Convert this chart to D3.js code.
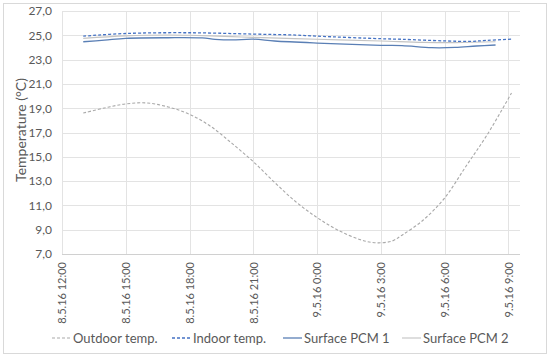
<!DOCTYPE html>
<html><head><meta charset="utf-8">
<script src="https://cdn.jsdelivr.net/npm/d3@7"></script>
<style>body{margin:0;background:#fff;} svg{display:block;font-family:Lato,"Open Sans",sans-serif;}</style>
</head><body>
<svg id="c" width="550" height="358"></svg>
<script>
// Hours since 8.5.16 12:00
const yTicks = [7, 9, 11, 13, 15, 17, 19, 21, 23, 25, 27];
const xTickLabels = ["8.5.16 12:00","8.5.16 15:00","8.5.16 18:00","8.5.16 21:00","9.5.16 0:00","9.5.16 3:00","9.5.16 6:00","9.5.16 9:00"];
const seriesNames = ["Outdoor temp.","Indoor temp.","Surface PCM 1","Surface PCM 2"];

const outdoorHours = [1,2,3,4,5,6,7,8,9,10,11,12,13,14,14.7,15.5,16,17,18,19,20,21.15];
const outdoorTemp  = [18.6,19.02,19.35,19.43,19.1,18.5,17.5,16.1,14.6,12.9,11.3,10.0,8.95,8.2,7.93,8.05,8.55,9.8,11.6,14.2,16.8,20.25];

const indoorHours = [1,3,6,9,11,12,15,16,18,19.2,20,21.15];
const indoorTemp  = [24.93,25.15,25.21,25.1,25.02,24.93,24.72,24.67,24.54,24.5,24.58,24.68];

const pcm1Hours = [1,2,3,5,6.6,7.2,8,9,10,12,15,16,17.4,18.5,19.5,20.4];
const pcm1Temp  = [24.47,24.6,24.75,24.8,24.78,24.67,24.62,24.68,24.53,24.36,24.17,24.15,23.98,24.0,24.12,24.2];

const pcm2Hours = [1,3,5,6,8,9,12,15,17,18.5,20.4];
const pcm2Temp  = [24.75,24.95,25.02,25.0,24.89,24.83,24.67,24.53,24.42,24.4,24.47];

const svg = d3.select("#c");
const m = {l:62, r:520, t:11, b:254};
const t0 = new Date(2016,4,8,12,0);
const toDate = h => new Date(t0.getTime() + h*3600000);
const x = d3.scaleTime().domain([t0, toDate(21.55)]).range([m.l, m.r]);
const y = d3.scaleLinear().domain([7,27]).range([m.b, m.t]);

// outer border
svg.append("rect").attr("x",3.5).attr("y",3.5).attr("width",543).attr("height",350)
  .attr("fill","none").attr("stroke","#d9d9d9");

// gridlines
const tickDates = xTickLabels.map((d,i)=>toDate(i*3));
svg.append("g").selectAll("line").data(yTicks).join("line")
  .attr("x1",m.l).attr("x2",m.r).attr("y1",d=>Math.round(y(d))+0.5).attr("y2",d=>Math.round(y(d))+0.5)
  .attr("stroke","#e3e3e3").attr("stroke-width",1);
svg.append("g").selectAll("line").data(tickDates).join("line")
  .attr("x1",d=>Math.round(x(d))+0.5).attr("x2",d=>Math.round(x(d))+0.5).attr("y1",m.t).attr("y2",m.b)
  .attr("stroke","#e3e3e3").attr("stroke-width",1);
svg.append("line").attr("x1",m.l).attr("x2",m.r).attr("y1",Math.round(y(7))+0.5).attr("y2",Math.round(y(7))+0.5)
  .attr("stroke","#d0d0d0");

// y axis labels
const yAxis = d3.axisLeft(y).tickValues(yTicks).tickSize(0).tickPadding(10)
  .tickFormat(d=>d3.format(".1f")(d).replace(".",","));
const gy = svg.append("g").attr("transform",`translate(${m.l},0)`).call(yAxis);
gy.select(".domain").remove();
gy.selectAll("text").attr("fill","#595959").style("font-size","12px").style("font-family","Lato,sans-serif");

// x axis labels (rotated)
const xAxis = d3.axisBottom(x).tickValues(tickDates).tickSize(0).tickFormat((d,i)=>xTickLabels[i]);
const gx = svg.append("g").attr("transform",`translate(0,${m.b})`).call(xAxis);
gx.select(".domain").remove();
gx.selectAll("text").attr("fill","#595959").style("font-size","11px").style("font-family","Lato,sans-serif")
  .attr("transform","rotate(-90)").attr("text-anchor","end")
  .attr("x",-8).attr("y",0).attr("dy","0.35em");

// y title
svg.append("text").attr("transform","translate(21,130) rotate(-90)").attr("text-anchor","middle")
  .attr("dy","0.35em").attr("fill","#595959").style("font-size","14px").text("Temperature (°C)");

const line = d3.line().x(d=>x(toDate(d[0]))).y(d=>y(d[1])).curve(d3.curveCatmullRom.alpha(0.5));
const styles = [
  {h:outdoorHours, v:outdoorTemp, color:"#a9a9a9", dash:"3,2", w:1.1},
  {h:indoorHours, v:indoorTemp, color:"#4472c4", dash:"3,2", w:1.3},
  {h:pcm1Hours, v:pcm1Temp, color:"#5a7fb5", dash:null, w:1.3},
  {h:pcm2Hours, v:pcm2Temp, color:"#c4c4c4", dash:null, w:1.1}
];
const drawOrder = [3,0,2,1];
drawOrder.forEach(i=>{
  const s = styles[i];
  svg.append("path").datum(s.h.map((h,j)=>[h,s.v[j]]))
    .attr("d",line).attr("fill","none").attr("stroke",s.color).attr("stroke-width",s.w)
    .attr("stroke-dasharray",s.dash);
});

// legend
const legX = [52,172,283,402];
const lg = svg.append("g");
seriesNames.forEach((n,i)=>{
  const s = styles[i];
  lg.append("line").attr("x1",legX[i]).attr("x2",legX[i]+19).attr("y1",338).attr("y2",338)
    .attr("stroke",s.color).attr("stroke-width",s.w).attr("stroke-dasharray",s.dash);
  lg.append("text").attr("x",legX[i]+21).attr("y",338).attr("dy","0.35em")
    .attr("fill","#595959").style("font-size","13px").text(n);
});
</script>
</body></html>
